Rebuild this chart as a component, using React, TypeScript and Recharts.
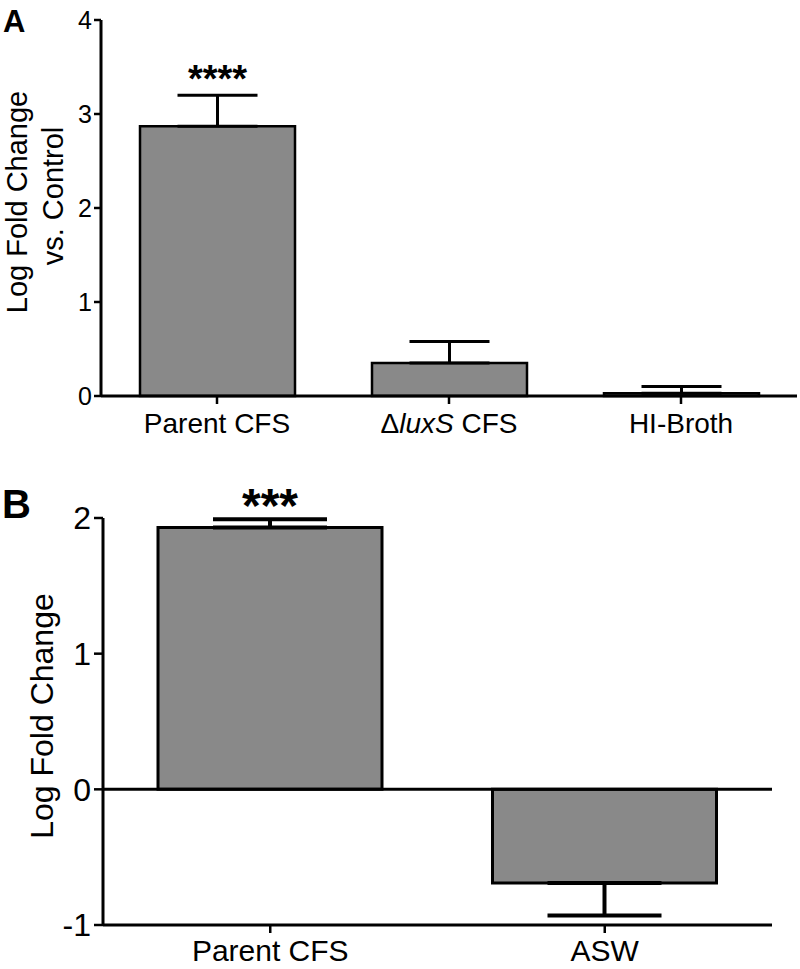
import React from "react";
import {
  BarChart,
  Bar,
  XAxis,
  YAxis,
  ErrorBar,
  LabelList,
  ReferenceLine,
} from "recharts";

// panel A
const categoriesA = ["Parent CFS", "ΔluxS CFS", "HI-Broth"];
const meansA = [2.87, 0.35, 0.03];
const semA = [0.33, 0.23, 0.07];
const sigA = ["****", "", ""];
const ticksA = [0, 1, 2, 3, 4];

// panel B
const categoriesB = ["Parent CFS", "ASW"];
const meansB = [1.93, -0.69];
const semB = [0.06, 0.24];
const sigB = ["***", ""];
const ticksB = [-1, 0, 1, 2];

const FONT = "'Liberation Sans', Arial, sans-serif";
const BAR_FILL = "#898989";

// one-sided error bars: up for positive bars, down for negative ones
const buildRows = (cats: string[], means: number[], sems: number[], sigs: string[]) =>
  cats.map((name, i) => ({
    name,
    value: means[i],
    err: means[i] >= 0 ? [0, sems[i]] : [sems[i], 0],
    sig: sigs[i],
  }));

const dataA = buildRows(categoriesA, meansA, semA, sigA);
const dataB = buildRows(categoriesB, meansB, semB, sigB);

const XTick = ({ x, y, payload, fontSize }: any) => {
  const label: string = payload.value;
  if (label.includes("luxS")) {
    return (
      <text x={x} y={y} dy="0.71em" textAnchor="middle" fontSize={fontSize} fontFamily={FONT} fill="#000">
        <tspan>Δ</tspan>
        <tspan fontStyle="italic">luxS</tspan>
        <tspan> CFS</tspan>
      </text>
    );
  }
  return (
    <text x={x} y={y} dy="0.71em" textAnchor="middle" fontSize={fontSize} fontFamily={FONT} fill="#000">
      {label}
    </text>
  );
};

// asterisks sit just above the top of the error bar
const makeSig = (means: number[], sems: number[], fontSize: number, shift: number) => (props: any) => {
  const { x, y, width, height, value, index } = props;
  if (!value) return null;
  const pxPerUnit = Math.abs(height) / Math.abs(means[index]);
  const errTop = y - sems[index] * pxPerUnit;
  return (
    <text
      x={x + width / 2}
      y={errTop + shift}
      textAnchor="middle"
      fontSize={fontSize}
      fontWeight="bold"
      fontFamily={FONT}
      fill="#000"
    >
      {value}
    </text>
  );
};

const App = () => {
  return (
    <div style={{ position: "absolute", left: 0, top: 0, width: 800, height: 969, background: "#fff" }}>
      <svg style={{ position: "absolute", left: 0, top: 0 }} width={800} height={969}>
        <text x={3} y={32} fontSize={31} fontWeight="bold" fontFamily={FONT} fill="#000">A</text>
        <text x={2} y={518} fontSize={40} fontWeight="bold" fontFamily={FONT} fill="#000">B</text>
      </svg>

      <div style={{ position: "absolute", left: 0, top: 0 }}>
        <BarChart width={800} height={440} data={dataA} margin={{ top: 20, right: 3, bottom: 0, left: 0 }}>
          <XAxis
            dataKey="name"
            height={44}
            axisLine={{ stroke: "#000", strokeWidth: 3 }}
            tickLine={{ stroke: "#000", strokeWidth: 2.5 }}
            tickSize={8}
            tickMargin={9}
            tick={<XTick fontSize={28} />}
            interval={0}
          />
          <YAxis
            width={101}
            domain={[0, 4]}
            ticks={ticksA}
            interval={0}
            axisLine={{ stroke: "#000", strokeWidth: 3 }}
            tickLine={{ stroke: "#000", strokeWidth: 2.5 }}
            tickSize={7}
            tickMargin={2}
            tick={{ fill: "#000", fontSize: 25, fontFamily: FONT }}
            label={{
              content: () => (
                <g fontFamily={FONT} fontSize={29} fill="#000">
                  <text transform="translate(27, 202) rotate(-90)" textAnchor="middle">Log Fold Change</text>
                  <text transform="translate(63, 196) rotate(-90)" textAnchor="middle">vs. Control</text>
                </g>
              ),
            }}
          />
          <Bar dataKey="value" fill={BAR_FILL} stroke="#000" strokeWidth={2.5} barSize={155} isAnimationActive={false}>
            <ErrorBar dataKey="err" direction="y" width={40} stroke="#000" strokeWidth={3} isAnimationActive={false} />
            <LabelList dataKey="sig" content={makeSig(meansA, semA, 38, -3)} />
          </Bar>
        </BarChart>
      </div>

      <div style={{ position: "absolute", left: 0, top: 440 }}>
        <BarChart width={800} height={529} data={dataB} margin={{ top: 78, right: 28, bottom: 0, left: 0 }}>
          <XAxis
            dataKey="name"
            height={44}
            axisLine={{ stroke: "#000", strokeWidth: 3 }}
            tickLine={{ stroke: "#000", strokeWidth: 2.5 }}
            tickSize={8}
            tickMargin={7}
            tick={<XTick fontSize={30} />}
            interval={0}
          />
          <YAxis
            width={103}
            domain={[-1, 2]}
            ticks={ticksB}
            interval={0}
            axisLine={{ stroke: "#000", strokeWidth: 3 }}
            tickLine={{ stroke: "#000", strokeWidth: 2.5 }}
            tickSize={9}
            tickMargin={3}
            tick={{ fill: "#000", fontSize: 32, fontFamily: FONT }}
            label={{
              content: () => (
                <g fontFamily={FONT} fontSize={32} fill="#000">
                  <text transform="translate(53, 276) rotate(-90)" textAnchor="middle">Log Fold Change</text>
                </g>
              ),
            }}
          />
          <Bar dataKey="value" fill={BAR_FILL} stroke="#000" strokeWidth={3} barSize={224} isAnimationActive={false}>
            <ErrorBar dataKey="err" direction="y" width={57} stroke="#000" strokeWidth={4} isAnimationActive={false} />
            <LabelList dataKey="sig" content={makeSig(meansB, semB, 48, 3)} />
          </Bar>
          <ReferenceLine y={0} stroke="#000" strokeWidth={3} />
        </BarChart>
      </div>
    </div>
  );
};

export default App;
